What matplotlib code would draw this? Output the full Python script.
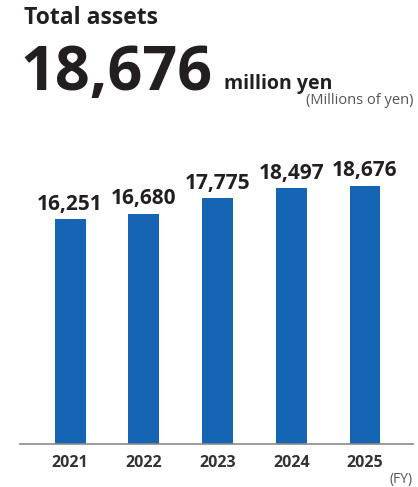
import matplotlib
matplotlib.use("Agg")
import matplotlib.pyplot as plt
import numpy as np

years = ["2021", "2022", "2023", "2024", "2025"]
total_assets = [16251, 16680, 17775, 18497, 18676]
headline_value = "18,676"

TEXT = "#231f20"
BAR = "#1565b4"

plt.rcParams["font.family"] = ["Open Sans", "DejaVu Sans"]

fig = plt.figure(figsize=(4.18, 4.87), dpi=100)
ax = fig.add_axes([0.0478, 0.0883, 0.940, 0.6037])

x = np.arange(len(years))
ax.bar(x, total_assets, width=0.42, color=BAR)
ax.set_xlim(-0.68, len(years) - 1 + 0.65)
ax.set_ylim(0, 21281)

for xi, v in zip(x, total_assets):
    ax.annotate(f"{v:,}", (xi, v), xytext=(0, 3.5), textcoords="offset points",
                ha="center", va="bottom", fontsize=15, fontweight="bold",
                color=TEXT)

for side in ["top", "right", "left"]:
    ax.spines[side].set_visible(False)
ax.spines["bottom"].set_color("#8a8a8a")
ax.spines["bottom"].set_linewidth(1.2)
ax.set_yticks([])
ax.set_xticks(x)
ax.set_xticklabels(years, fontsize=11.5, fontweight="bold", color="#333333")
ax.tick_params(axis="x", length=0, pad=8)

fig.text(24 / 418, 1 - 18 / 487, "Total assets", fontsize=16.5, fontweight="bold",
         color=TEXT, va="center", ha="left")
fig.text(20 / 418, 1 - 90 / 487, headline_value, fontsize=44, fontweight="bold",
         color=TEXT, va="baseline", ha="left")
fig.text(224 / 418, 1 - 89 / 487, "million yen", fontsize=14, fontweight="bold",
         color=TEXT, va="baseline", ha="left")
fig.text(413 / 418, 1 - 101 / 487, "(Millions of yen)", fontsize=10.5,
         color="#555555", va="center", ha="right")
fig.text(413 / 418, 1 - 479 / 487, "(FY)", fontsize=10,
         color="#555555", va="center", ha="right")

fig.savefig("out.png", dpi=100)
